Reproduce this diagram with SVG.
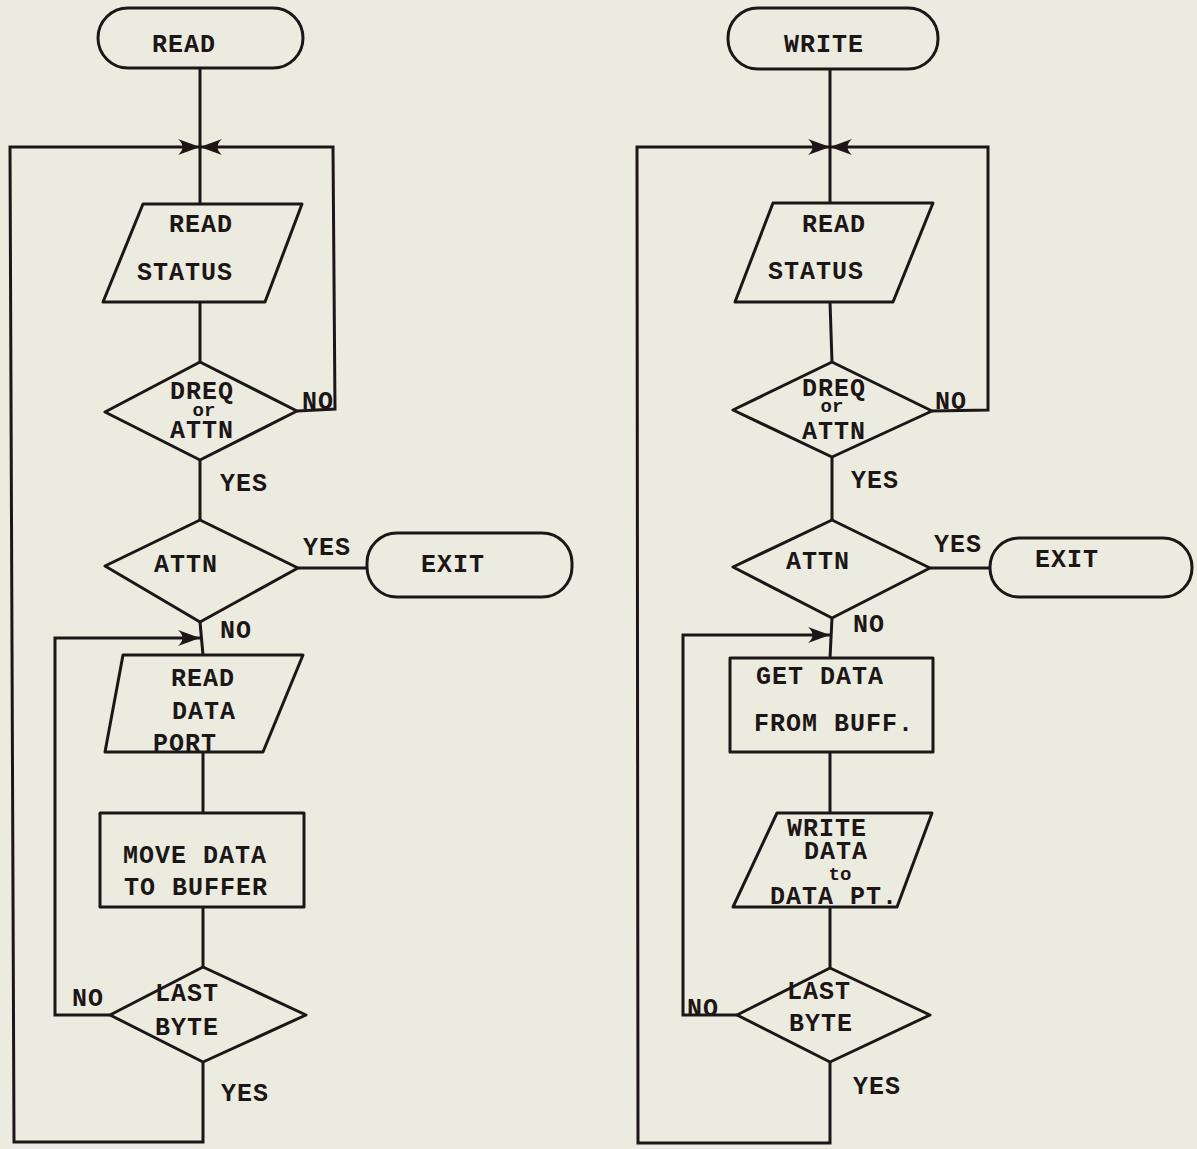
<svg xmlns="http://www.w3.org/2000/svg" width="1197" height="1149" viewBox="0 0 1197 1149">
<style>
.shape{fill:none;stroke:#1d1616;stroke-width:3;stroke-linejoin:round}
.conn{fill:none;stroke:#1d1616;stroke-width:3;stroke-linejoin:miter}
text{font-family:"Liberation Mono","DejaVu Sans Mono",monospace;font-size:25px;font-weight:bold;fill:#1d1616;text-anchor:middle;letter-spacing:1px}
.sm{font-size:19px;letter-spacing:0}
</style>
<defs>
<marker id="arr" viewBox="0 0 22 16" refX="22" refY="8" markerUnits="userSpaceOnUse" markerWidth="22" markerHeight="16" orient="auto">
<path d="M0,0 Q9,8 0,16 L22,8 Z" fill="#1d1616"/>
</marker>
</defs>
<rect width="1197" height="1149" fill="#ecebe0"/>
<g id="connectors">
<path class="conn" d="M200,68 V204"/>
<path class="conn" d="M200,302 V362"/>
<path class="conn" d="M200,460 V520"/>
<path class="conn" d="M298,568 H367"/>
<path class="conn" d="M200,622 L203,655"/>
<path class="conn" d="M203,752 V813"/>
<path class="conn" d="M203,907 V967"/>
<path class="conn" d="M297,411 L335,409 L333,147 L200,147" marker-end="url(#arr)"/>
<path class="conn" d="M203,1062 V1142 H14 L10,147 H200" marker-end="url(#arr)"/>
<path class="conn" d="M110,1015 H55 V638 H200" marker-end="url(#arr)"/>
<path class="conn" d="M830,69 V203"/>
<path class="conn" d="M830,302 L832,362"/>
<path class="conn" d="M832,457 V520"/>
<path class="conn" d="M930,568 H990"/>
<path class="conn" d="M832,618 L830,658"/>
<path class="conn" d="M830,752 V813"/>
<path class="conn" d="M830,907 V968"/>
<path class="conn" d="M932,411 L988,410 V147 H830" marker-end="url(#arr)"/>
<path class="conn" d="M830,1062 V1143 H638 L637,147 H830" marker-end="url(#arr)"/>
<path class="conn" d="M737,1015 H683 V635 H830" marker-end="url(#arr)"/>
</g>
<g id="read-start"><rect class="shape" x="98" y="8" width="205" height="60" rx="30"/><text x="184" y="52">READ</text></g>
<g id="read-status-1"><polygon class="shape" points="143,204 302,204 265,302 103,302"/><text x="201" y="232">READ</text><text x="185" y="280">STATUS</text></g>
<g id="dreq-1"><polygon class="shape" points="200,362 297,411 200,460 105,412"/><text x="202" y="399">DREQ</text><text class="sm" x="204" y="416">or</text><text x="202" y="438">ATTN</text></g>
<g id="attn-1"><polygon class="shape" points="200,520 298,568 200,622 105,566"/><text x="186" y="572">ATTN</text></g>
<g id="exit-1"><rect class="shape" x="367" y="533" width="205" height="64" rx="30"/><text x="453" y="572">EXIT</text></g>
<g id="read-data-port"><polygon class="shape" points="123,655 303,655 263,752 105,752"/><text x="203" y="686">READ</text><text x="204" y="719">DATA</text><text x="185" y="751">PORT</text></g>
<g id="move-data"><rect class="shape" x="100" y="813" width="204" height="94"/><text x="195" y="863">MOVE DATA</text><text x="196" y="895">TO BUFFER</text></g>
<g id="last-byte-1"><polygon class="shape" points="203,967 306,1015 203,1062 110,1015"/><text x="187" y="1001">LAST</text><text x="187" y="1035">BYTE</text></g>
<g id="labels-left"><text x="318" y="409">NO</text><text x="244" y="491">YES</text><text x="327" y="555">YES</text><text x="236" y="638">NO</text><text x="88" y="1006">NO</text><text x="245" y="1101">YES</text></g>
<g id="write-start"><rect class="shape" x="728" y="8" width="210" height="61" rx="30"/><text x="824" y="52">WRITE</text></g>
<g id="read-status-2"><polygon class="shape" points="773,203 933,203 893,302 735,302"/><text x="834" y="232">READ</text><text x="816" y="279">STATUS</text></g>
<g id="dreq-2"><polygon class="shape" points="832,362 932,411 832,457 733,410"/><text x="834" y="396">DREQ</text><text class="sm" x="832" y="412">or</text><text x="834" y="439">ATTN</text></g>
<g id="attn-2"><polygon class="shape" points="832,520 930,568 832,618 733,567"/><text x="818" y="569">ATTN</text></g>
<g id="exit-2"><rect class="shape" x="990" y="538" width="202" height="59" rx="29"/><text x="1067" y="567">EXIT</text></g>
<g id="get-data"><rect class="shape" x="730" y="658" width="203" height="94"/><text x="820" y="684">GET DATA</text><text x="834" y="731">FROM BUFF.</text></g>
<g id="write-data"><polygon class="shape" points="777,813 932,813 897,907 733,907"/><text x="827" y="836">WRITE</text><text x="836" y="859">DATA</text><text class="sm" x="840" y="880">to</text><text x="834" y="904">DATA PT.</text></g>
<g id="last-byte-2"><polygon class="shape" points="830,968 930,1015 830,1062 737,1015"/><text x="819" y="999">LAST</text><text x="821" y="1031">BYTE</text></g>
<g id="labels-right"><text x="951" y="409">NO</text><text x="875" y="488">YES</text><text x="958" y="552">YES</text><text x="869" y="632">NO</text><text x="703" y="1016">NO</text><text x="877" y="1094">YES</text></g>
</svg>
